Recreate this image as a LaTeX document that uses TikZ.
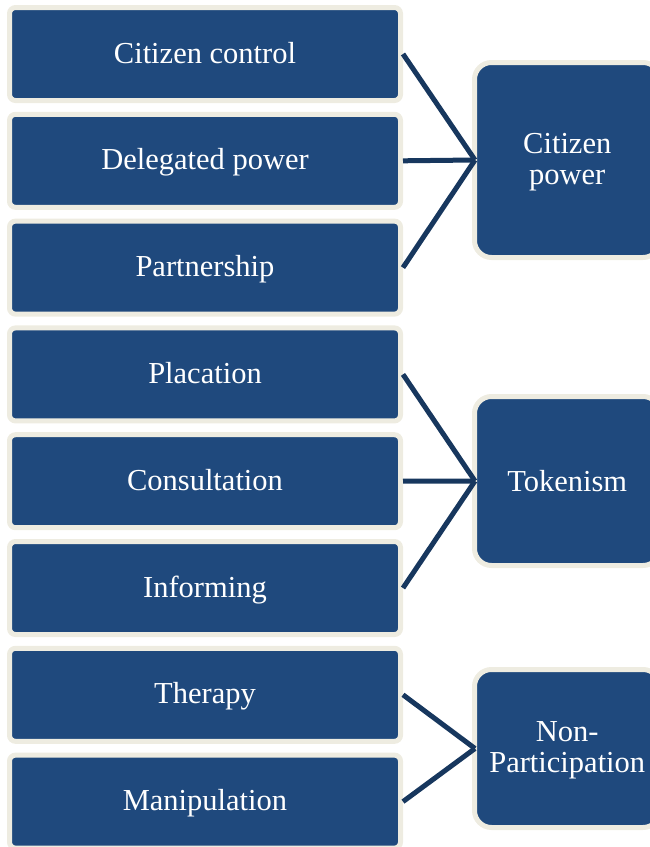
\documentclass[tikz,border=0pt]{standalone}
\usepackage{fontspec}
\setmainfont{Liberation Serif}

\definecolor{boxblue}{HTML}{1F497D}
\definecolor{boxrim}{HTML}{EEECE1}
\definecolor{linknavy}{HTML}{17375E}

\begin{document}
\begin{tikzpicture}[x=1pt, y=-1pt,
    rung/.style={draw=boxrim, line width=5pt, fill=boxblue, text=white,
      rounded corners=6pt, minimum width=391pt, minimum height=93pt,
      inner sep=0pt, text height=20pt, text depth=2pt,
      font=\fontsize{30.5}{34}\selectfont},
    level/.style={draw=boxrim, line width=5pt, fill=boxblue, text=white,
      rounded corners=17pt, minimum width=185.5pt, inner sep=0pt,
      align=center, font=\fontsize{30.5}{31.5}\selectfont},
    link/.style={draw=linknavy, line width=5pt}]

                  % Page frame
                  \useasboundingbox (0,0) rectangle (650,847);

                  % Rungs of the ladder, top to bottom
                  \node[rung] (control)     at (205,54)    {Citizen control};
                  \node[rung] (delegated)   at (205,160.8) {Delegated power};
                  \node[rung] (partnership) at (205,267.6) {Partnership};
                  \node[rung] (placation)   at (205,374.4) {Placation};
                  \node[rung] (consult)     at (205,481.2) {Consultation};
                  \node[rung] (informing)   at (205,588)   {Informing};
                  \node[rung] (therapy)     at (205,694.8) {Therapy};
                  \node[rung] (manip)       at (205,801.6) {Manipulation};

                  % Groups on the right
                  \node[level, minimum height=195pt, text height=56.5pt, text depth=6.6pt] (citpower) at (567.25,160)   {Citizen\\power};
                  \node[level, minimum height=169pt] (token)    at (567.25,481)   {Tokenism};
                  \node[level, minimum height=158pt, text height=55.5pt, text depth=6.6pt] (nonpart)  at (567.25,748.5) {Non-\\Participation};

                  % Rungs joined to their group
                  \coordinate (cpjoin) at ([xshift=3pt]citpower.west);
                  \coordinate (tkjoin) at ([xshift=3pt]token.west);
                  \coordinate (npjoin) at ([xshift=3pt]nonpart.west);

                  \draw[link] (control.east) -- (cpjoin);
                  \draw[link] (delegated.east) -- (cpjoin);
                  \draw[link] (partnership.east) -- (cpjoin);

                  \draw[link] (placation.east) -- (tkjoin);
                  \draw[link] (consult.east) -- (tkjoin);
                  \draw[link] (informing.east) -- (tkjoin);

                  \draw[link] (therapy.east) -- (npjoin);
                  \draw[link] (manip.east) -- (npjoin);
              \end{tikzpicture}
\end{document}
